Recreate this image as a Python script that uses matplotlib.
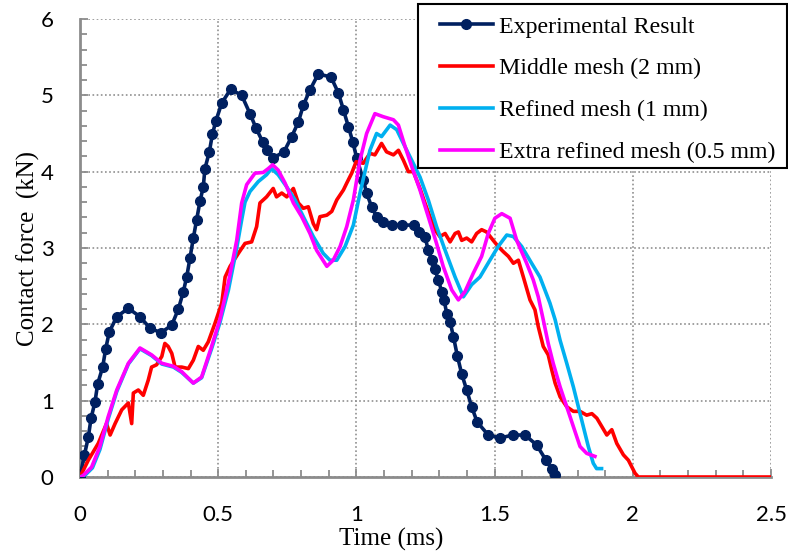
import matplotlib
matplotlib.use("Agg")
import matplotlib.pyplot as plt
from matplotlib.ticker import MultipleLocator
from matplotlib.patches import Rectangle

# ---- data (time in ms, force in kN) ----
exp_t = [0, 0.016, 0.030, 0.040, 0.054, 0.064, 0.082, 0.093, 0.106, 0.133,
         0.175, 0.217, 0.253, 0.293, 0.332, 0.356, 0.374, 0.386, 0.398, 0.410,
         0.422, 0.434, 0.446, 0.452, 0.468, 0.479, 0.492, 0.513, 0.545, 0.585,
         0.615, 0.637, 0.661, 0.675, 0.699, 0.738, 0.766, 0.790, 0.808, 0.832,
         0.862, 0.908, 0.935, 0.953, 0.971, 0.987, 1.001, 1.025, 1.037, 1.055,
         1.073, 1.095, 1.128, 1.164, 1.208, 1.228, 1.248, 1.260, 1.272, 1.284,
         1.296, 1.309, 1.317, 1.327, 1.339, 1.351, 1.365, 1.381, 1.399, 1.417,
         1.437, 1.477, 1.520, 1.565, 1.610, 1.652, 1.686, 1.707, 1.719]
exp_f = [0, 0.29, 0.52, 0.77, 0.98, 1.22, 1.44, 1.68, 1.90, 2.10,
         2.21, 2.10, 1.95, 1.89, 1.99, 2.20, 2.43, 2.62, 2.87, 3.13,
         3.37, 3.61, 3.80, 4.04, 4.26, 4.49, 4.67, 4.90, 5.08, 5.00,
         4.76, 4.57, 4.39, 4.28, 4.18, 4.26, 4.46, 4.65, 4.87, 5.07,
         5.28, 5.24, 5.03, 4.81, 4.59, 4.39, 4.18, 3.89, 3.72, 3.54,
         3.41, 3.34, 3.30, 3.30, 3.30, 3.21, 3.15, 2.97, 2.84, 2.73,
         2.58, 2.43, 2.32, 2.14, 2.03, 1.84, 1.59, 1.35, 1.14, 0.92,
         0.72, 0.55, 0.51, 0.55, 0.55, 0.42, 0.22, 0.10, 0.02]

mid_t = [0, 0.03, 0.066, 0.096, 0.109, 0.127, 0.151, 0.175, 0.187, 0.193,
         0.211, 0.229, 0.247, 0.259, 0.277, 0.296, 0.307, 0.319, 0.332, 0.344,
         0.368, 0.392, 0.410, 0.428, 0.446, 0.464, 0.488, 0.513, 0.525, 0.543,
         0.573, 0.597, 0.621, 0.639, 0.651, 0.675, 0.699, 0.711, 0.730, 0.748,
         0.772, 0.790, 0.808, 0.826, 0.844, 0.856, 0.868, 0.893, 0.911, 0.929,
         0.953, 0.965, 0.983, 0.999, 1.025, 1.049, 1.067, 1.091, 1.109, 1.134,
         1.152, 1.170, 1.188, 1.206, 1.230, 1.248, 1.266, 1.284, 1.302, 1.321,
         1.339, 1.357, 1.369, 1.381, 1.399, 1.417, 1.435, 1.453, 1.471, 1.495,
         1.513, 1.532, 1.550, 1.568, 1.586, 1.604, 1.628, 1.646, 1.658, 1.676,
         1.694, 1.707, 1.719, 1.737, 1.761, 1.785, 1.809, 1.833, 1.852, 1.870,
         1.888, 1.906, 1.924, 1.942, 1.966, 1.984, 2.008, 2.02, 2.5]
mid_f = [0, 0.22, 0.44, 0.70, 0.55, 0.70, 0.88, 0.97, 0.70, 1.10,
         1.14, 1.07, 1.27, 1.44, 1.47, 1.58, 1.75, 1.71, 1.62, 1.44,
         1.44, 1.42, 1.53, 1.71, 1.66, 1.77, 2.01, 2.28, 2.62, 2.76,
         2.93, 3.06, 3.08, 3.28, 3.59, 3.67, 3.78, 3.67, 3.72, 3.67,
         3.78, 3.59, 3.52, 3.54, 3.32, 3.24, 3.41, 3.43, 3.48, 3.63,
         3.76, 3.85, 3.98, 4.13, 4.11, 4.24, 4.22, 4.37, 4.26, 4.22,
         4.28, 4.15, 4.00, 4.00, 3.78, 3.59, 3.41, 3.24, 3.15, 3.19,
         3.08, 3.19, 3.21, 3.10, 3.13, 3.08, 3.19, 3.24, 3.21, 3.10,
         3.02, 2.95, 2.89, 2.80, 2.84, 2.62, 2.32, 2.19, 1.97, 1.71,
         1.60, 1.40, 1.23, 1.05, 0.92, 0.86, 0.86, 0.81, 0.83, 0.77,
         0.66, 0.55, 0.62, 0.44, 0.29, 0.22, 0.05, 0, 0]

ref_t = [0, 0.02, 0.045, 0.072, 0.102, 0.133, 0.175, 0.217, 0.259, 0.296,
         0.338, 0.368, 0.410, 0.440, 0.476, 0.506, 0.537, 0.567, 0.585, 0.597,
         0.615, 0.645, 0.675, 0.693, 0.717, 0.748, 0.778, 0.808, 0.844, 0.880,
         0.904, 0.929, 0.959, 0.989, 1.013, 1.049, 1.073, 1.091, 1.122, 1.146,
         1.170, 1.200, 1.230, 1.260, 1.290, 1.321, 1.357, 1.387, 1.417, 1.447,
         1.483, 1.513, 1.544, 1.568, 1.598, 1.634, 1.664, 1.700, 1.719, 1.737,
         1.761, 1.785, 1.803, 1.821, 1.839, 1.857, 1.869, 1.887]
ref_f = [0, 0.03, 0.12, 0.36, 0.76, 1.12, 1.48, 1.68, 1.59, 1.48,
         1.44, 1.37, 1.23, 1.30, 1.68, 2.02, 2.45, 3.00, 3.37, 3.60,
         3.74, 3.87, 3.96, 4.04, 3.96, 3.80, 3.63, 3.41, 3.15, 2.93,
         2.84, 2.84, 3.02, 3.30, 3.72, 4.28, 4.50, 4.46, 4.61, 4.55,
         4.37, 4.15, 3.93, 3.63, 3.28, 2.97, 2.62, 2.36, 2.52, 2.62,
         2.84, 3.02, 3.17, 3.15, 3.02, 2.80, 2.62, 2.28, 2.06, 1.79,
         1.49, 1.18, 0.92, 0.66, 0.40, 0.18, 0.11, 0.11]

xr_t = [0, 0.006, 0.042, 0.072, 0.102, 0.133, 0.175, 0.217, 0.259, 0.296,
        0.338, 0.368, 0.410, 0.440, 0.476, 0.506, 0.537, 0.567, 0.585, 0.603,
        0.633, 0.663, 0.681, 0.697, 0.717, 0.742, 0.772, 0.802, 0.832, 0.856,
        0.893, 0.916, 0.941, 0.965, 0.989, 1.013, 1.037, 1.067, 1.097, 1.134,
        1.152, 1.176, 1.200, 1.230, 1.260, 1.290, 1.314, 1.345, 1.369, 1.393,
        1.423, 1.453, 1.477, 1.501, 1.526, 1.556, 1.580, 1.616, 1.640, 1.658,
        1.676, 1.694, 1.712, 1.737, 1.761, 1.785, 1.809, 1.833, 1.863]
xr_f = [0, 0.0, 0.13, 0.40, 0.79, 1.14, 1.49, 1.69, 1.60, 1.49,
        1.45, 1.38, 1.23, 1.31, 1.71, 2.06, 2.55, 3.10, 3.59, 3.83,
        3.98, 3.99, 4.04, 4.09, 4.02, 3.85, 3.59, 3.41, 3.19, 2.97,
        2.76, 2.84, 3.02, 3.28, 3.63, 4.15, 4.50, 4.76, 4.72, 4.68,
        4.61, 4.33, 4.07, 3.76, 3.41, 3.06, 2.76, 2.45, 2.32, 2.43,
        2.67, 2.89, 3.19, 3.39, 3.45, 3.39, 3.10, 2.80, 2.58, 2.36,
        2.06, 1.75, 1.49, 1.18, 0.92, 0.66, 0.40, 0.31, 0.27]

labels = ["Experimental Result", "Middle mesh (2 mm)",
          "Refined mesh (1 mm)", "Extra refined mesh (0.5 mm)"]
colors = ["#002060", "#FF0000", "#00B0F0", "#FF00FF"]

# ---- figure ----
W, H = 788, 554
fig = plt.figure(figsize=(W/100, H/100), dpi=100)
ax = fig.add_axes([80/W, 1-477/H, (771-80)/W, (477-19)/H])

lw = 2.6
ax.plot(exp_t, exp_f, color=colors[0], lw=lw, marker='o', ms=7,
        label=labels[0], zorder=3)
ax.plot(mid_t, mid_f, color=colors[1], lw=lw, label=labels[1], zorder=3)
ax.plot(ref_t, ref_f, color=colors[2], lw=lw, label=labels[2], zorder=3)
ax.plot(xr_t, xr_f, color=colors[3], lw=lw, label=labels[3], zorder=3)

ax.set_xlim(0, 2.5)
ax.set_ylim(0, 6)
ax.xaxis.set_minor_locator(MultipleLocator(0.1))
ax.yaxis.set_major_locator(MultipleLocator(1))
ax.yaxis.set_minor_locator(MultipleLocator(0.2))
ax.set_xticks([0, 0.5, 1, 1.5, 2, 2.5])
ax.set_xticklabels(["0", "0.5", "1", "1.5", "2", "2.5"])

gray = "#8C8C8C"
for s in ["top", "right"]:
    ax.spines[s].set_visible(False)
for s in ["left", "bottom"]:
    ax.spines[s].set_color(gray)
    ax.spines[s].set_linewidth(2.0)

ax.grid(True, which="major", color="#909090", linestyle=(0, (1, 1.5)), linewidth=1.2)
ax.set_axisbelow(True)

ax.tick_params(which="both", direction="in", color=gray, width=1.3)
ax.tick_params(which="major", length=6)
ax.tick_params(which="minor", length=5)
ax.tick_params(axis="y", which="major", pad=19)
ax.tick_params(axis="x", which="major", pad=20)
for lab in ax.get_xticklabels() + ax.get_yticklabels():
    lab.set_fontfamily("Lato")
    lab.set_fontsize(16)

ax.set_xlabel("Time (ms)", family="Liberation Serif", fontsize=18)
ax.set_ylabel("Contact force  (kN)", family="Liberation Serif", fontsize=18)
ax.xaxis.set_label_coords((391-80)/691, (477-528)/458)
ax.yaxis.set_label_coords((40-80)/691, 0.5)

# legend box (drawn as a plain rectangle) and legend entries
box = Rectangle((418/W, 1-168/H), (787-418)/W, (168-4)/H,
                transform=fig.transFigure, facecolor="white",
                edgecolor="black", linewidth=1.5, clip_on=False, zorder=4)
ax.add_patch(box)
leg = ax.legend(loc="upper left", bbox_to_anchor=(440/W, 1-16/H),
                bbox_transform=fig.transFigure,
                prop={"family": "Liberation Serif", "size": 17.2},
                frameon=False, numpoints=1, handlelength=2.2,
                handletextpad=0.25, labelspacing=0.84, borderpad=0,
                borderaxespad=0)
leg.set_zorder(5)

fig.savefig("out.png", dpi=100)
